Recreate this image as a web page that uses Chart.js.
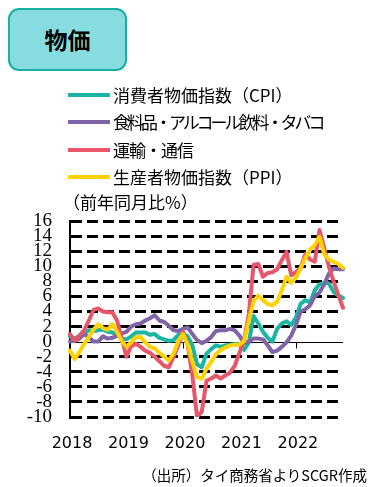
<!DOCTYPE html>
<html>
<head>
<meta charset="utf-8">
<script src="https://cdn.jsdelivr.net/npm/chart.js@4.4.0/dist/chart.umd.min.js"></script>
<style>
body { margin: 0; background: #fff; }
#wrap { position: relative; width: 385px; height: 487px; overflow: hidden;
        font-family: "Noto Sans CJK JP", sans-serif; color: #000; }
#graph { position: absolute; left: 0; top: 0; }
.title { position: absolute; left: 8px; top: 8px; width: 119px; height: 63px; box-sizing: border-box;
         border: 2.5px solid #17b0a2; border-radius: 11px; background: #86dcdf;
         font-weight: bold; font-size: 23px; line-height: 58px; text-align: center; }
.item { position: absolute; left: 68px; height: 20px; font-size: 17px; line-height: 20px; white-space: nowrap; }
.item i { position: absolute; left: 0; top: 8px; width: 42px; height: 4px; }
.item span { position: absolute; left: 45px; top: 0; }
.unit { position: absolute; left: 63px; top: 192px; font-size: 17px; line-height: 20px; white-space: nowrap; }
.source { position: absolute; right: 18px; top: 465px; font-size: 14.5px; line-height: 20px; white-space: nowrap; }
</style>
</head>
<body>
<div id="wrap">
  <canvas id="graph" width="385" height="487"></canvas>
  <div class="title">物価</div>
  <div class="item" style="top:85px"><i style="background:#1cb5a4"></i><span>消費者物価指数（CPI）</span></div>
  <div class="item" style="top:112px"><i style="background:#8064a8"></i><span style="letter-spacing:-3px">食料品・アルコール飲料・タバコ</span></div>
  <div class="item" style="top:140px"><i style="background:#e8566a"></i><span style="letter-spacing:-1px">運輸・通信</span></div>
  <div class="item" style="top:167px"><i style="background:#ffd200"></i><span>生産者物価指数（PPI）</span></div>
  <div class="unit">（前年同月比%）</div>
  <div class="source">（出所）タイ商務省よりSCGR作成</div>
</div>
<script>
// year labels on the x axis, monthly data Jan 2018 - Nov 2022
var years = ['2018', '2019', '2020', '2021', '2022'];
var lastMonth = 11;

// 消費者物価指数（CPI）
var cpi = [
    0.7, 0.4, 0.8, 1.1, 1.5, 1.4, 1.5, 1.6, 1.3, 1.2, 0.9, 0.4,
    0.3, 0.7, 1.2, 1.2, 1.2, 0.9, 1.0, 0.5, 0.3, 0.1, 0.2, 0.9,
    1.1, 0.7, -0.5, -3.0, -3.4, -1.6, -1.0, -0.5, -0.7, -0.5, -0.4, -0.3,
    -0.3, -1.1, -0.1, 3.4, 2.4, 1.3, 0.5, 0.0, 1.7, 2.4, 2.7, 2.2,
    3.2, 5.0, 5.5, 5.2, 6.8, 7.6, 7.8, 7.7, 6.6, 6.1, 5.8
];
// 食料品・アルコール飲料・タバコ
var food = [
    0.0, 0.1, 0.4, 1.0, 0.6, 0.0, 0.0, 0.7, 0.4, 0.5, 0.8, 1.1,
    1.3, 2.0, 2.3, 2.4, 2.8, 3.1, 3.5, 2.8, 2.6, 2.1, 1.5, 1.4,
    1.7, 1.9, 1.0, 0.2, -0.2, 0.1, 0.6, 1.4, 1.5, 1.5, 1.7, 1.5,
    0.8, -0.2, 0.0, 0.4, 0.4, 0.3, -0.5, -1.4, -1.2, -0.7, -0.1, 0.8,
    2.2, 4.0, 4.3, 4.8, 6.0, 6.5, 7.6, 9.0, 9.7, 9.6, 9.6
];
// 運輸・通信
var transport = [
    1.0, 0.1, 0.8, 1.5, 2.8, 4.2, 4.4, 4.0, 3.9, 3.9, 2.8, 0.4,
    -2.0, -0.6, -0.3, -0.7, -1.2, -1.5, -2.0, -2.6, -3.2, -3.4, -2.0, -0.5,
    1.3, -0.4, -4.5, -10.0, -9.3, -5.2, -4.9, -4.5, -4.9, -4.5, -4.1, -3.2,
    -1.5, 0.3, 3.6, 10.2, 10.3, 8.6, 9.1, 9.2, 9.6, 10.8, 11.9, 8.8,
    9.2, 9.8, 11.6, 10.9, 10.6, 14.8, 12.4, 10.0, 8.0, 6.2, 4.5
];
// 生産者物価指数（PPI）
var ppi = [
    -1.2, -2.3, -1.4, -0.3, 0.6, 1.6, 2.3, 1.8, 1.6, 2.3, 1.3, 0.1,
    -0.7, -0.1, 0.6, 0.6, -0.1, -0.7, -0.9, -1.5, -2.0, -2.5, -1.6, 0.1,
    1.0, -0.4, -2.7, -4.7, -4.9, -3.6, -2.7, -1.7, -1.1, -0.8, -0.5, -0.4,
    -0.4, 0.1, 2.8, 5.4, 6.1, 5.5, 5.0, 4.8, 5.3, 6.8, 8.6, 7.8,
    8.5, 9.7, 11.1, 12.2, 12.8, 13.9, 11.6, 10.9, 10.6, 10.3, 9.8
];

var months = [];
years.forEach(function (y, n) {
    var end = (n === years.length - 1) ? lastMonth : 12;
    for (var m = 1; m <= end; m++) {
        months.push(y + '-' + (m < 10 ? '0' + m : m));
    }
});

// zero line with year tick marks (the category axis crosses at 0)
var zeroAxis = {
    id: 'zeroAxis',
    beforeDatasetsDraw: function (chart) {
        var ctx = chart.ctx;
        var xs = chart.scales.x;
        var y0 = Math.round(chart.scales.y.getPixelForValue(0)) + 0.5;
        ctx.save();
        ctx.strokeStyle = '#000';
        ctx.lineWidth = 1;
        ctx.beginPath();
        ctx.moveTo(chart.chartArea.left, y0);
        ctx.lineTo(chart.chartArea.right, y0);
        months.forEach(function (m, i) {
            if (m.slice(5) === '01') {
                var px = Math.round(xs.getPixelForValue(i)) + 0.5;
                ctx.moveTo(px, y0);
                ctx.lineTo(px, y0 + 6);
            }
        });
        ctx.stroke();
        ctx.restore();
    }
};

function line(data, color, order) {
    return {
        data: data,
        borderColor: color,
        backgroundColor: color,
        borderWidth: 4,
        pointRadius: 0,
        fill: false,
        tension: 0,
        borderJoinStyle: 'round',
        borderCapStyle: 'round',
        order: order
    };
}

window.onload = function () {
    new Chart(document.getElementById('graph'), {
        type: 'line',
        data: {
            labels: months,
            datasets: [
                line(cpi, '#1cb5a4', 4),
                line(food, '#8064a8', 3),
                line(transport, '#e8566a', 2),
                line(ppi, '#ffd200', 1)
            ]
        },
        options: {
            responsive: false,
            animation: false,
            devicePixelRatio: 1,
            layout: {
                padding: { top: 221, right: 42, left: 0, bottom: 0 }
            },
            scales: {
                x: {
                    afterFit: function (s) { s.height = 70; },
                    grid: { display: false, drawTicks: false },
                    border: { display: false },
                    ticks: {
                        autoSkip: false,
                        maxRotation: 0,
                        padding: 17,
                        labelOffset: 2,
                        color: '#000',
                        font: { family: 'DejaVu Sans', size: 16 },
                        callback: function (v) {
                            var m = this.getLabelForValue(v);
                            return m.slice(5) === '01' ? m.slice(0, 4) : '';
                        }
                    }
                },
                y: {
                    min: -10,
                    max: 16,
                    afterFit: function (s) { s.width = 70; },
                    grid: {
                        drawTicks: false,
                        lineWidth: 3,
                        color: function (c) {
                            return c.tick && c.tick.value === 0 ? 'rgba(0,0,0,0)' : '#000';
                        }
                    },
                    border: { display: true, color: '#000', width: 2, dash: [11, 5] },
                    ticks: {
                        stepSize: 2,
                        autoSkip: false,
                        padding: 18,
                        color: '#000',
                        font: { family: 'Liberation Serif', size: 19 }
                    }
                }
            },
            plugins: {
                legend: { display: false },
                tooltip: { enabled: false }
            }
        },
        plugins: [zeroAxis]
    });
};
</script>
</body>
</html>
